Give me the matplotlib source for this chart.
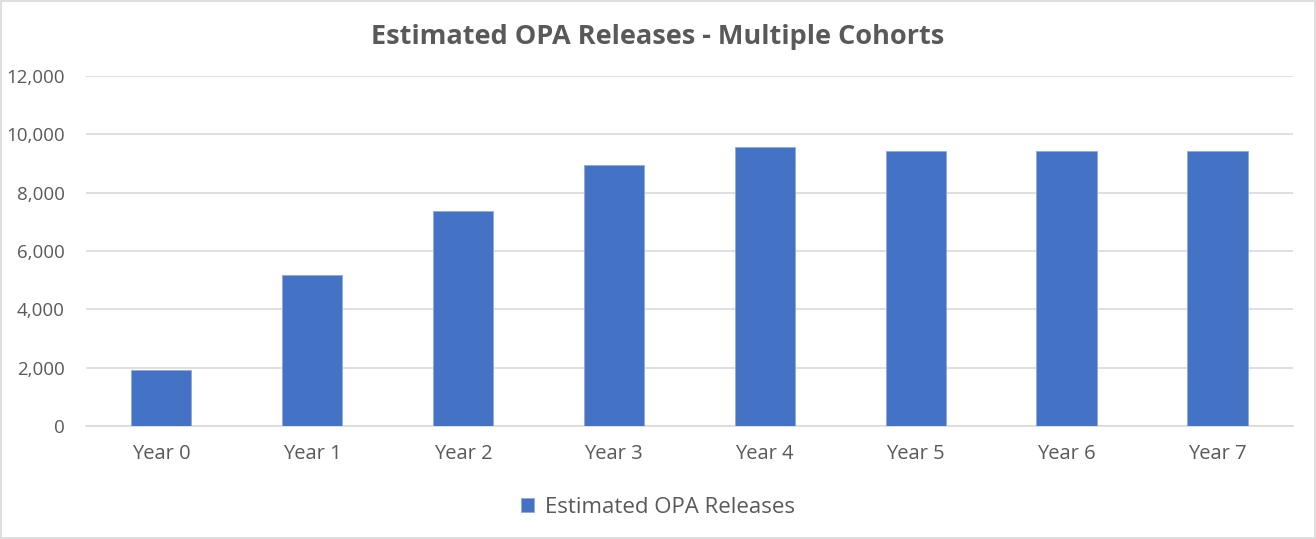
import numpy as np
import matplotlib.pyplot as plt
from matplotlib.patches import Rectangle
from matplotlib.ticker import FuncFormatter

categories = ['Year 0', 'Year 1', 'Year 2', 'Year 3', 'Year 4', 'Year 5', 'Year 6', 'Year 7']
releases = [1920, 5180, 7360, 8950, 9555, 9440, 9440, 9440]
yticks = [0, 2000, 4000, 6000, 8000, 10000, 12000]

plt.rcParams['font.family'] = ['Open Sans', 'DejaVu Sans']
text_color = '#595959'

fig = plt.figure(figsize=(13.16, 5.39), dpi=100)
ax = fig.add_axes([0.065, 0.2096, 0.9176, 0.6494])

x = np.arange(len(categories))
ax.bar(x, releases, width=0.40, color='#4472C4', edgecolor='#8faadc', linewidth=0.6,
       label='Estimated OPA Releases', zorder=3)

ax.set_xlim(-0.5, len(categories) - 0.5)
ax.set_ylim(0, 12000)
ax.set_yticks(yticks)
ax.yaxis.set_major_formatter(FuncFormatter(lambda v, p: '{:,.0f}'.format(v)))
ax.set_xticks(x)
ax.set_xticklabels(categories)
ax.grid(axis='y', color='#d9d9d9', linewidth=1.2, zorder=0)
for s in ['top', 'right', 'left']:
    ax.spines[s].set_visible(False)
ax.spines['bottom'].set_color('#d9d9d9')
ax.spines['bottom'].set_linewidth(1.2)
ax.tick_params(axis='x', length=0, labelsize=14.5, colors=text_color, pad=13)
ax.tick_params(axis='y', length=0, labelsize=13.5, colors=text_color, pad=15)

fig.text(0.5, 0.932, 'Estimated OPA Releases - Multiple Cohorts', ha='center', va='center',
         fontsize=19.5, fontweight='bold', color=text_color)

leg = fig.legend(loc='center', bbox_to_anchor=(0.5, 0.058), frameon=False,
                 fontsize=16, handlelength=0.6, handleheight=0.6, handletextpad=0.5)
for t in leg.get_texts():
    t.set_color(text_color)

fig.patches.append(Rectangle((0.001, 0.002), 0.998, 0.996, transform=fig.transFigure,
                             fill=False, edgecolor='#d9d9d9', linewidth=1.2))

fig.savefig('out.png', dpi=100)
